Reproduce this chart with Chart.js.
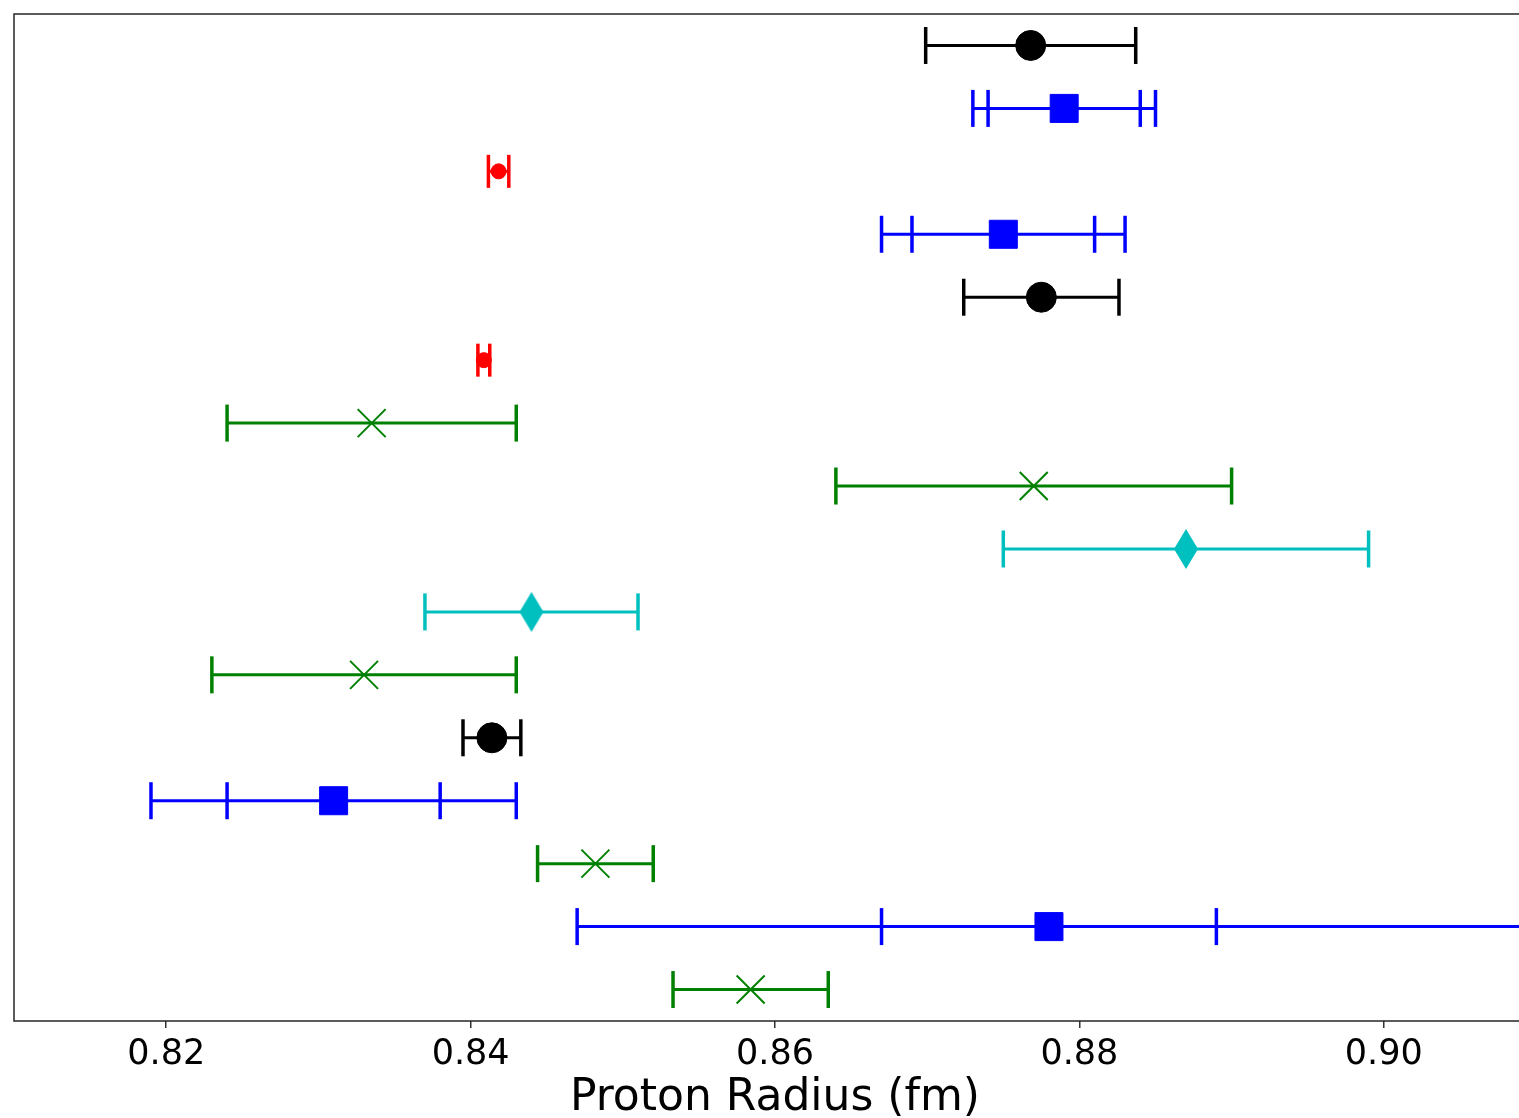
<!DOCTYPE html>
<html>
<head>
<meta charset="utf-8">
<script src="https://cdn.jsdelivr.net/npm/chart.js@4.4.1/dist/chart.umd.min.js"></script>
<style>
  html, body { margin: 0; padding: 0; overflow: hidden; background: #ffffff; }
  canvas { display: block; }
</style>
</head>
<body>
<canvas id="chart" width="1540" height="1130"></canvas>
<script>
// Proton charge radius results, one row per determination (top row first)
const rowIndex = [0, 1, 2, 3, 4, 5, 6, 7, 8, 9, 10, 11, 12, 13, 14, 15];
const radiusFm = [0.8768, 0.879, 0.84184, 0.875, 0.8775, 0.84087, 0.8335, 0.877,
                  0.887, 0.844, 0.833, 0.8414, 0.831, 0.8482, 0.878, 0.8584];
// first (inner) uncertainty of each result
const errInner = [0.0069, 0.005, 0.00067, 0.006, 0.0051, 0.00039, 0.0095, 0.013,
                  0.012, 0.007, 0.010, 0.0019, 0.007, 0.0038, 0.011, 0.0051];
// second (outer) uncertainty, where one is quoted
const errOuter = [null, 0.006, null, 0.008, null, null, null, null,
                  null, null, null, null, 0.012, null, 0.031, null];
// kind of determination
const method = ['codata', 'scattering', 'muonic', 'scattering', 'codata', 'muonic',
                'hydrogen', 'hydrogen', 'dispersive', 'dispersive', 'hydrogen',
                'codata', 'scattering', 'hydrogen', 'scattering', 'hydrogen'];
const xTicks = [0.82, 0.84, 0.86, 0.88, 0.90];
const xLimits = [0.81, 0.91];

// thin diamond marker
function thinDiamond(w, h, color) {
  const c = document.createElement('canvas');
  c.width = w + 2; c.height = h + 2;
  const g = c.getContext('2d');
  g.fillStyle = color;
  g.beginPath();
  g.moveTo(c.width / 2, 1);
  g.lineTo(c.width - 1, c.height / 2);
  g.lineTo(c.width / 2, c.height - 1);
  g.lineTo(1, c.height / 2);
  g.closePath();
  g.fill();
  return c;
}

const styles = {
  codata:     { color: '#000000', pointStyle: 'circle',  radius: 15,   border: 1, cap: 18.5 },
  scattering: { color: '#0000ff', pointStyle: 'rect',    radius: 19.8, border: 1, cap: 18.5 },
  muonic:     { color: '#ff0000', pointStyle: 'circle',  radius: 7.5,  border: 1, cap: 16.5 },
  hydrogen:   { color: '#008000', pointStyle: 'crossRot', radius: 19.8, border: 2, cap: 18.5 },
  dispersive: { color: '#00bfbf', pointStyle: thinDiamond(24, 40, '#00bfbf'), radius: 20, border: 0, cap: 18.5 }
};

const kinds = Object.keys(styles);
const datasets = kinds.map(k => {
  const st = styles[k];
  return {
    label: k,
    data: rowIndex.filter(i => method[i] === k).map(i => ({ x: radiusFm[i], y: rowIndex[i] })),
    pointStyle: st.pointStyle,
    pointRadius: st.radius,
    pointBackgroundColor: st.color,
    pointBorderColor: st.color,
    pointBorderWidth: st.border,
    showLine: false
  };
});

// horizontal error bars with caps, drawn beneath the markers
const errorBars = {
  id: 'errorBars',
  beforeDatasetsDraw(chart) {
    const { ctx, chartArea, scales: { x, y } } = chart;
    ctx.save();
    ctx.beginPath();
    ctx.rect(chartArea.left, chartArea.top, chartArea.right - chartArea.left, chartArea.bottom - chartArea.top);
    ctx.clip();
    ctx.lineCap = 'butt';
    rowIndex.forEach(i => {
      const st = styles[method[i]];
      const yp = y.getPixelForValue(rowIndex[i]);
      const spans = [errInner[i]];
      if (errOuter[i] != null) spans.push(errOuter[i]);
      const widest = Math.max(...spans);
      ctx.strokeStyle = st.color;
      ctx.lineWidth = 3;
      ctx.beginPath();
      ctx.moveTo(x.getPixelForValue(radiusFm[i] - widest), yp);
      ctx.lineTo(x.getPixelForValue(radiusFm[i] + widest), yp);
      ctx.stroke();
      ctx.lineWidth = 3.5;
      spans.forEach(e => {
        [-1, 1].forEach(s => {
          const xp = x.getPixelForValue(radiusFm[i] + s * e);
          ctx.beginPath();
          ctx.moveTo(xp, yp - st.cap);
          ctx.lineTo(xp, yp + st.cap);
          ctx.stroke();
        });
      });
    });
    ctx.restore();
  }
};

// axes frame
const frame = {
  id: 'frame',
  afterDraw(chart) {
    const { ctx, chartArea: a } = chart;
    ctx.save();
    ctx.strokeStyle = '#262626';
    ctx.lineWidth = 1.5;
    ctx.strokeRect(a.left, a.top, a.right - a.left, a.bottom - a.top);
    ctx.restore();
  }
};

new Chart(document.getElementById('chart'), {
  type: 'scatter',
  data: { datasets },
  plugins: [errorBars, frame],
  options: {
    responsive: false,
    animation: false,
    devicePixelRatio: 1,
    layout: { autoPadding: false, padding: { left: 14, top: 14, right: 4, bottom: 0 } },
    plugins: { legend: { display: false }, tooltip: { enabled: false } },
    scales: {
      x: {
        type: 'linear',
        min: xLimits[0],
        max: xLimits[1],
        afterBuildTicks: s => { s.ticks = xTicks.map(v => ({ value: v })); },
        afterFit: s => { s.height = 109; },
        grid: { display: true, drawOnChartArea: false, drawTicks: true, tickLength: 7, color: '#333333', lineWidth: 1.5 },
        border: { display: false },
        ticks: {
          padding: 6,
          color: '#000000',
          font: { family: 'DejaVu Sans', size: 35 },
          callback: v => Number(v).toFixed(2)
        },
        title: {
          display: true,
          text: 'Proton Radius (fm)',
          color: '#000000',
          font: { family: 'DejaVu Sans', size: 44, lineHeight: 1.2 },
          padding: { top: 0, bottom: 5 }
        }
      },
      y: { type: 'linear', display: false, reverse: true, min: -0.5, max: 15.5 }
    }
  }
});
</script>
</body>
</html>
